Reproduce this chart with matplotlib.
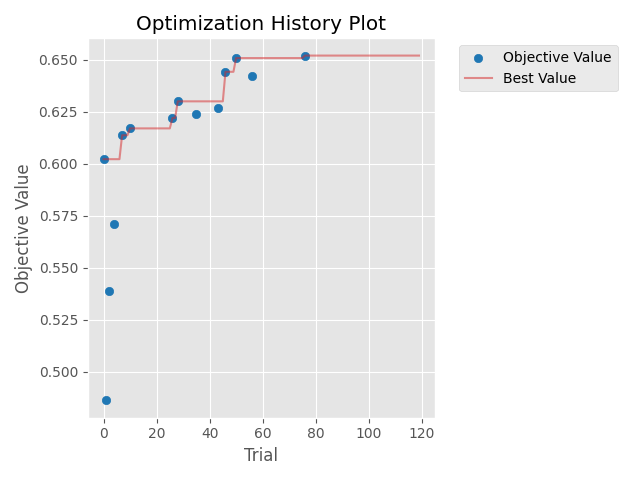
import numpy as np
import matplotlib
matplotlib.use("Agg")
import matplotlib.pyplot as plt

# completed trials that show up as points
trial_numbers = [0, 1, 2, 4, 7, 10, 26, 28, 35, 43, 46, 50, 56, 76]
objective_values = [0.6022, 0.4862, 0.5390, 0.5710, 0.6137, 0.6170, 0.6220,
                    0.6300, 0.6238, 0.6267, 0.6442, 0.6508, 0.6423, 0.6520]
n_trials = 120

# best value so far, evaluated at every trial number
all_trials = np.arange(n_trials)
vals = np.full(n_trials, -np.inf)
vals[trial_numbers] = objective_values
best_values = np.maximum.accumulate(vals)

plt.style.use("ggplot")
cmap = plt.get_cmap("tab10")

fig, ax = plt.subplots(figsize=(6.4, 4.8), dpi=100)
ax.set_title("Optimization History Plot")
ax.set_xlabel("Trial")
ax.set_ylabel("Objective Value")

ax.scatter(trial_numbers, objective_values, color=cmap(0), alpha=1,
           label="Objective Value")
ax.plot(all_trials, best_values, marker="o", markersize=0,
        color=cmap(3), alpha=0.5, label="Best Value")

ax.legend(bbox_to_anchor=(1.05, 1.0), loc="upper left")
fig.tight_layout()
fig.savefig("out.png")
